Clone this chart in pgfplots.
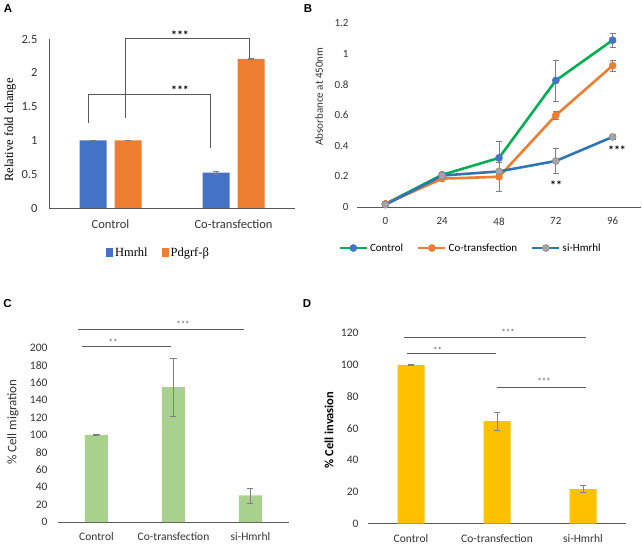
\documentclass[border=0pt]{standalone}
\usepackage{pgfplots}
\pgfplotsset{compat=1.18}
\usepackage{fontspec}
\setmainfont{Carlito}
\newfontfamily\timesf{Liberation Serif}
\newfontfamily\arialf{Liberation Sans}
\definecolor{oblue}{HTML}{4472C4}
\definecolor{oorange}{HTML}{ED7D31}
\definecolor{ogreen}{HTML}{00B050}
\definecolor{lblue}{HTML}{2E75B6}
\definecolor{ogray}{HTML}{A5A5A5}
\definecolor{lgreen}{HTML}{A9D18E}
\definecolor{ogold}{HTML}{FFC000}
\definecolor{axgray}{HTML}{595959}
\definecolor{errgray}{HTML}{7F7F7F}
\pgfplotsset{
  base/.style={scale only axis, axis lines*=left,
    axis line style={draw=axgray, line width=0.7pt},
    major tick length=0pt, tick style={draw=none},
    /pgf/number format/assume math mode=true,
    ticklabel style={text=black!80},
    clip=false, enlargelimits=false},
  errs/.style={/pgfplots/error bars/y dir=both, /pgfplots/error bars/y explicit,
    /pgfplots/error bars/error bar style={draw=errgray, line width=0.7pt},
    /pgfplots/error bars/error mark options={rotate=90, draw=errgray, line width=0.7pt, mark size=3bp}},
}
\begin{document}
\begin{tikzpicture}
\useasboundingbox (0bp,0bp) rectangle (642bp,544bp);
% ---------------- Panel A
\begin{axis}[base, at={(49bp,336bp)}, anchor=south west, width=246bp, height=169bp,
  xmin=-0.5, xmax=1.5, ymin=0, ymax=2.5,
  xtick={0,1}, xticklabels={Control,Co-transfection},
  ytick={0,0.5,1,1.5,2,2.5},
  ybar=8bp, bar width=27bp,
  ticklabel style={font=\fontsize{12.5bp}{15bp}\selectfont},
  yticklabel style={xshift=-8bp}, xticklabel style={yshift=-8bp},
  legend columns=2,
  legend style={draw=none, fill=none, at={(0.445,-0.266)}, anchor=center,
    font=\timesf\fontsize{12.5bp}{15bp}\selectfont,
    /tikz/every even column/.append style={column sep=12bp}},
]
\addplot[fill=oblue, draw=none, errs,
  legend image code/.code={\fill[oblue] (0bp,-4.5bp) rectangle (7bp,4.5bp);}]
  coordinates {(0,1.0) +- (0,0.006) (1,0.522) +- (0,0.018)};
\addplot[fill=oorange, draw=none, errs,
  legend image code/.code={\fill[oorange] (0bp,-4.5bp) rectangle (7bp,4.5bp);}]
  coordinates {(0,1.0) +- (0,0.006) (1,2.205) +- (0,0.01)};
\legend{Hmrhl, Pdgrf-β}
\end{axis}
% ---------------- Panel B
\begin{axis}[base, at={(357bp,337bp)}, anchor=south west, width=284bp, height=184bp,
  y axis line style={draw=none},
  xmin=-12, xmax=108, ymin=0, ymax=1.2,
  xtick={0,24,48,72,96}, ytick={0,0.2,0.4,0.6,0.8,1,1.2},
  ticklabel style={font=\fontsize{11bp}{13bp}\selectfont},
  yticklabel style={xshift=-5bp}, xticklabel style={yshift=-7bp},
  legend columns=3,
  legend style={draw=none, fill=none, at={(0.40,-0.223)}, anchor=center,
    font=\fontsize{11bp}{13bp}\selectfont,
    /tikz/every even column/.append style={column sep=12bp}},
  legend image code/.code={\draw[#1, mark repeat=2, mark phase=2] plot coordinates {(0bp,0bp)(13.5bp,0bp)(27bp,0bp)};},
]
\addplot[ogreen, line width=2.6pt, mark=*, mark size=3.6bp,
  mark options={fill=oblue, draw=oblue, line width=0.4pt}, errs]
  coordinates {(0,0.02) +- (0,0.004) (24,0.21) +- (0,0.01) (48,0.32) +- (0,0.106)
               (72,0.825) +- (0,0.133) (96,1.088) +- (0,0.045)};
\addplot[oorange, line width=2.6pt, mark=*, mark size=3.6bp,
  mark options={fill=oorange, draw=oorange, line width=0.4pt}, errs]
  coordinates {(0,0.02) +- (0,0.004) (24,0.185) +- (0,0.01) (48,0.197) +- (0,0.097)
               (72,0.598) +- (0,0.025) (96,0.922) +- (0,0.037)};
\addplot[lblue, line width=2.6pt, mark=*, mark size=3.6bp,
  mark options={fill=ogray, draw=ogray!80!black, line width=0.4pt}, errs]
  coordinates {(0,0.015) +- (0,0.004) (24,0.205) +- (0,0.01) (48,0.232) +- (0,0.012)
               (72,0.30) +- (0,0.08) (96,0.457) +- (0,0.019)};
\legend{Control, Co-transfection, si-Hmrhl}
\end{axis}
% ---------------- Panel C
\begin{axis}[base, at={(58bp,22bp)}, anchor=south west, width=231bp, height=174bp,
  y axis line style={draw=none},
  xmin=-0.5, xmax=2.5, ymin=0, ymax=200,
  xtick={0,1,2}, xticklabels={Control,Co-transfection,si-Hmrhl},
  ytick={0,20,...,200},
  ybar, bar width=23bp,
  ticklabel style={font=\fontsize{11.5bp}{13bp}\selectfont},
  yticklabel style={xshift=-7bp}, xticklabel style={yshift=-7bp},
]
\addplot[fill=lgreen, draw=none, errs]
  coordinates {(0,100) +- (0,0.4) (1,155) +- (0,33) (2,30.5) +- (0,8.5)};
\end{axis}
% ---------------- Panel D
\begin{axis}[base, at={(368bp,20.3bp)}, anchor=south west, width=258bp, height=190.7bp,
  y axis line style={draw=none},
  xmin=-0.5, xmax=2.5, ymin=0, ymax=120,
  xtick={0,1,2}, xticklabels={Control,Co-transfection,si-Hmrhl},
  ytick={0,20,...,120},
  ybar, bar width=27bp,
  ticklabel style={font=\fontsize{11.5bp}{13bp}\selectfont},
  yticklabel style={xshift=-6bp}, xticklabel style={yshift=-7bp},
]
\addplot[fill=ogold, draw=none, errs]
  coordinates {(0,100) +- (0,0.3) (1,64.5) +- (0,5.8) (2,21.8) +- (0,2.3)};
\end{axis}
% ---------------- annotations
\begin{scope}[x=1bp, y=1bp]
\begin{scope}[draw=axgray, line width=0.8pt]
  \draw (88.7,421) -- (88.7,450) -- (210,450) -- (210,396);
  \draw (125,426) -- (125,506) -- (249,506) -- (249,486);
  \draw (82,198) -- (171,198);
  \draw (78,214.3) -- (244,214.3);
  \draw (404,206.3) -- (586,206.3);
  \draw (407,190.3) -- (496,190.3);
  \draw (497,157) -- (586,157);
\end{scope}
\node[font=\bfseries\fontsize{12bp}{14bp}\selectfont] at (180,454) {***};
\node[font=\bfseries\fontsize{12bp}{14bp}\selectfont] at (180,509) {***};
\node[font=\bfseries\fontsize{12bp}{14bp}\selectfont] at (556,359) {**};
\node[font=\bfseries\fontsize{12bp}{14bp}\selectfont] at (617,394) {***};
\node[font=\fontsize{9bp}{11bp}\selectfont, text=axgray] at (113,202) {**};
\node[font=\fontsize{9bp}{11bp}\selectfont, text=axgray] at (183,220) {***};
\node[font=\fontsize{9bp}{11bp}\selectfont, text=axgray] at (508,211.5) {***};
\node[font=\fontsize{9bp}{11bp}\selectfont, text=axgray] at (437.7,194) {**};
\node[font=\fontsize{9bp}{11bp}\selectfont, text=axgray] at (544,163) {***};
\node[rotate=90, font=\timesf\fontsize{12.5bp}{15bp}\selectfont] at (10,414) {Relative fold change};
\node[rotate=90, font=\fontsize{11bp}{13bp}\selectfont, text=black!80] at (319,447.5) {Absorbance at 450nm};
\node[rotate=90, font=\fontsize{13bp}{15bp}\selectfont, text=black!80] at (13,122) {\% Cell migration};
\node[rotate=90, font=\bfseries\fontsize{12.5bp}{15bp}\selectfont] at (329,114) {\% Cell invasion};
\node[font=\arialf\bfseries\fontsize{11.5bp}{13bp}\selectfont] at (8,535) {A};
\node[font=\arialf\bfseries\fontsize{11.5bp}{13bp}\selectfont] at (308,535) {B};
\node[font=\arialf\bfseries\fontsize{11.5bp}{13bp}\selectfont] at (7.5,240) {C};
\node[font=\arialf\bfseries\fontsize{11.5bp}{13bp}\selectfont] at (307,240) {D};
\end{scope}
\end{tikzpicture}
\end{document}
